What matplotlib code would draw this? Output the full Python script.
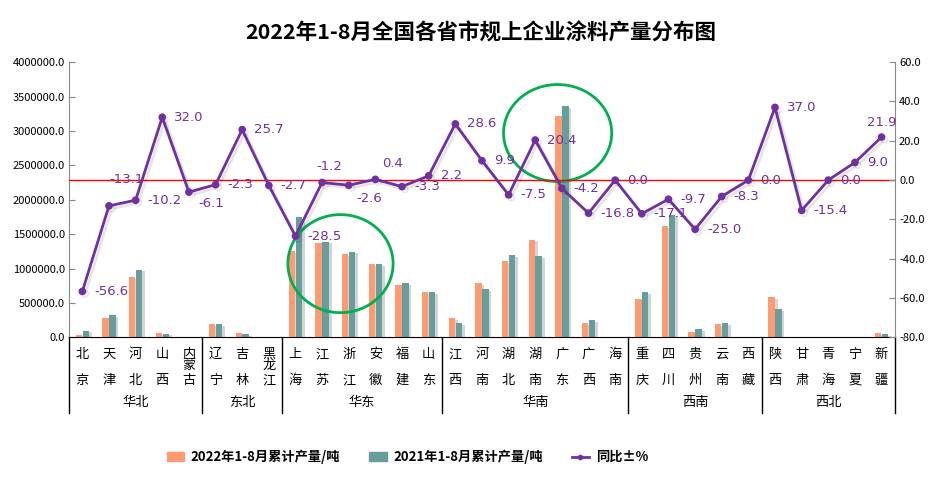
import numpy as np
import matplotlib.pyplot as plt
import matplotlib.transforms as mtransforms
import matplotlib.patheffects as pe
from matplotlib.patches import Ellipse, Patch
from matplotlib.lines import Line2D

plt.rcParams['font.family'] = ['Noto Sans CJK SC', 'DejaVu Sans']

# data
provinces = ['北京', '天津', '河北', '山西', '内蒙古',
             '辽宁', '吉林', '黑龙江',
             '上海', '江苏', '浙江', '安徽', '福建', '山东',
             '江西', '河南', '湖北', '湖南', '广东', '广西', '海南',
             '重庆', '四川', '贵州', '云南', '西藏',
             '陕西', '甘肃', '青海', '宁夏', '新疆']
regions = ['华北', '东北', '华东', '华南', '西南', '西北']
region_sizes = [5, 3, 6, 7, 5, 5]

prod_2022 = [40000, 276000, 873000, 60000, 10000,
             189000, 58000, 10000,
             1251000, 1367000, 1207000, 1062000, 766000, 664000,
             276000, 785000, 1105000, 1421000, 3215000, 204000, 0,
             553000, 1615000, 73000, 189000, 0,
             582000, 10000, 0, 8000, 58000]
prod_2021 = [100000, 320000, 985000, 55000, 10000,
             189000, 45000, 10000,
             1745000, 1392000, 1246000, 1062000, 785000, 654000,
             204000, 698000, 1193000, 1178000, 3360000, 247000, 0,
             654000, 1780000, 116000, 204000, 0,
             407000, 8000, 0, 8000, 45000]
yoy = [-56.6, -13.1, -10.2, 32.0, -6.1,
       -2.3, 25.7, -2.7,
       -28.5, -1.2, -2.6, 0.4, -3.3, 2.2,
       28.6, 9.9, -7.5, 20.4, -4.2, -16.8, 0.0,
       -17.1, -9.7, -25.0, -8.3, 0.0,
       37.0, -15.4, 0.0, 9.0, 21.9]

orange = '#FF9B73'
teal = '#679E9C'
purple = '#7030A0'

x = np.arange(len(provinces))

fig = plt.figure(figsize=(9.52, 4.82), dpi=100)
ax = fig.add_axes([0.0725, 0.3, 0.8675, 0.571])
ax2 = ax.twinx()

shadow = [pe.SimplePatchShadow(offset=(2, -1), alpha=0.2), pe.Normal()]
b1 = ax.bar(x - 0.13, prod_2022, width=0.24, color=orange, zorder=2)
b2 = ax.bar(x + 0.13, prod_2021, width=0.24, color=teal, zorder=2)
for p in list(b1) + list(b2):
    p.set_path_effects(shadow)

ax.set_xlim(-0.5, len(provinces) - 0.5)
ax.set_ylim(0, 4000000)
ax.set_yticks(np.arange(0, 4000001, 500000))
ax.yaxis.set_major_formatter(plt.FuncFormatter(lambda v, p: '%.1f' % v))
ax.set_xticks([])
ax.tick_params(axis='y', direction='in', length=4, labelsize=8, color='#888888', pad=3)
ax.spines['top'].set_visible(False)
ax2.spines['top'].set_visible(False)
ax.spines['left'].set_color('#888888')
ax2.spines['left'].set_visible(False)
ax.spines['right'].set_visible(False)
ax2.spines['right'].set_color('#888888')
ax.spines['bottom'].set_color('black')
ax2.spines['bottom'].set_visible(False)

ax2.set_ylim(-80, 60)
ax2.set_yticks(np.arange(-80, 61, 20))
ax2.yaxis.set_major_formatter(plt.FuncFormatter(lambda v, p: '%.1f' % v))
ax2.tick_params(axis='y', direction='in', length=4, labelsize=8, color='#888888', pad=3)
ax2.axhline(0, color='red', lw=1, zorder=1)
ax2.plot(x, yoy, color=purple, lw=2, marker='o', ms=4.5, zorder=3,
         path_effects=[pe.SimpleLineShadow(offset=(2, -2), alpha=0.1), pe.Normal()])

# data label placement (pixel offsets, alignment)
special = {1: (0, 26, 'left'), 4: (9, -11, 'left'), 9: (7, 16, 'center'),
           10: (8, -13, 'left'), 11: (7, 16, 'left'), 30: (0, 15, 'center')}
for i, v in enumerate(yoy):
    dx, dy, ha = special.get(i, (12, 0, 'left'))
    ax2.annotate('%.1f' % v, (x[i], v), xytext=(dx, dy), textcoords='offset pixels',
                 ha=ha, va='center', color=purple, fontsize=9.5,
                 family='DejaVu Sans', zorder=4)

# category table below the axis
trans = mtransforms.blended_transform_factory(ax.transData, ax.transAxes)
for i, name in enumerate(provinces):
    if len(name) == 2:
        ys = [-0.062, -0.156]
    else:
        ys = [-0.062, -0.103, -0.156]
    for ch, yy in zip(name, ys):
        ax.text(x[i], yy, ch, transform=trans, ha='center', va='center', fontsize=9.5)

edges = np.concatenate([[0], np.cumsum(region_sizes)]) - 0.5
for e in edges:
    ax.plot([e, e], [0, -0.276], transform=trans, color='black', lw=1, clip_on=False)
for r, a, b in zip(regions, edges[:-1], edges[1:]):
    ax.text((a + b) / 2, -0.236, r, transform=trans, ha='center', va='center', fontsize=9.5)

# green highlight ellipses
ax.add_patch(Ellipse((9.69, 1072000), 3.95, 1425000, fill=False,
                     edgecolor='#00B050', lw=2, clip_on=False, zorder=5))
ax.add_patch(Ellipse((17.84, 2970000), 4.06, 1410000, fill=False,
                     edgecolor='#00B050', lw=2, clip_on=False, zorder=5))

fig.text(0.505, 0.931, '2022年1-8月全国各省市规上企业涂料产量分布图',
         ha='center', va='center', fontsize=15.5, fontweight='bold')

handles = [Patch(color=orange), Patch(color=teal),
           Line2D([0], [0], color=purple, lw=2, marker='o', ms=3)]
labels = ['2022年1-8月累计产量/吨', '2021年1-8月累计产量/吨', '同比±%']
fig.legend(handles, labels, loc='center', bbox_to_anchor=(0.428, 0.052), ncol=3,
           frameon=False, prop={'weight': 'bold', 'size': 9.5},
           handlelength=1.3, handleheight=0.7, columnspacing=2.2, handletextpad=0.5)

fig.savefig('out.png', dpi=100)
